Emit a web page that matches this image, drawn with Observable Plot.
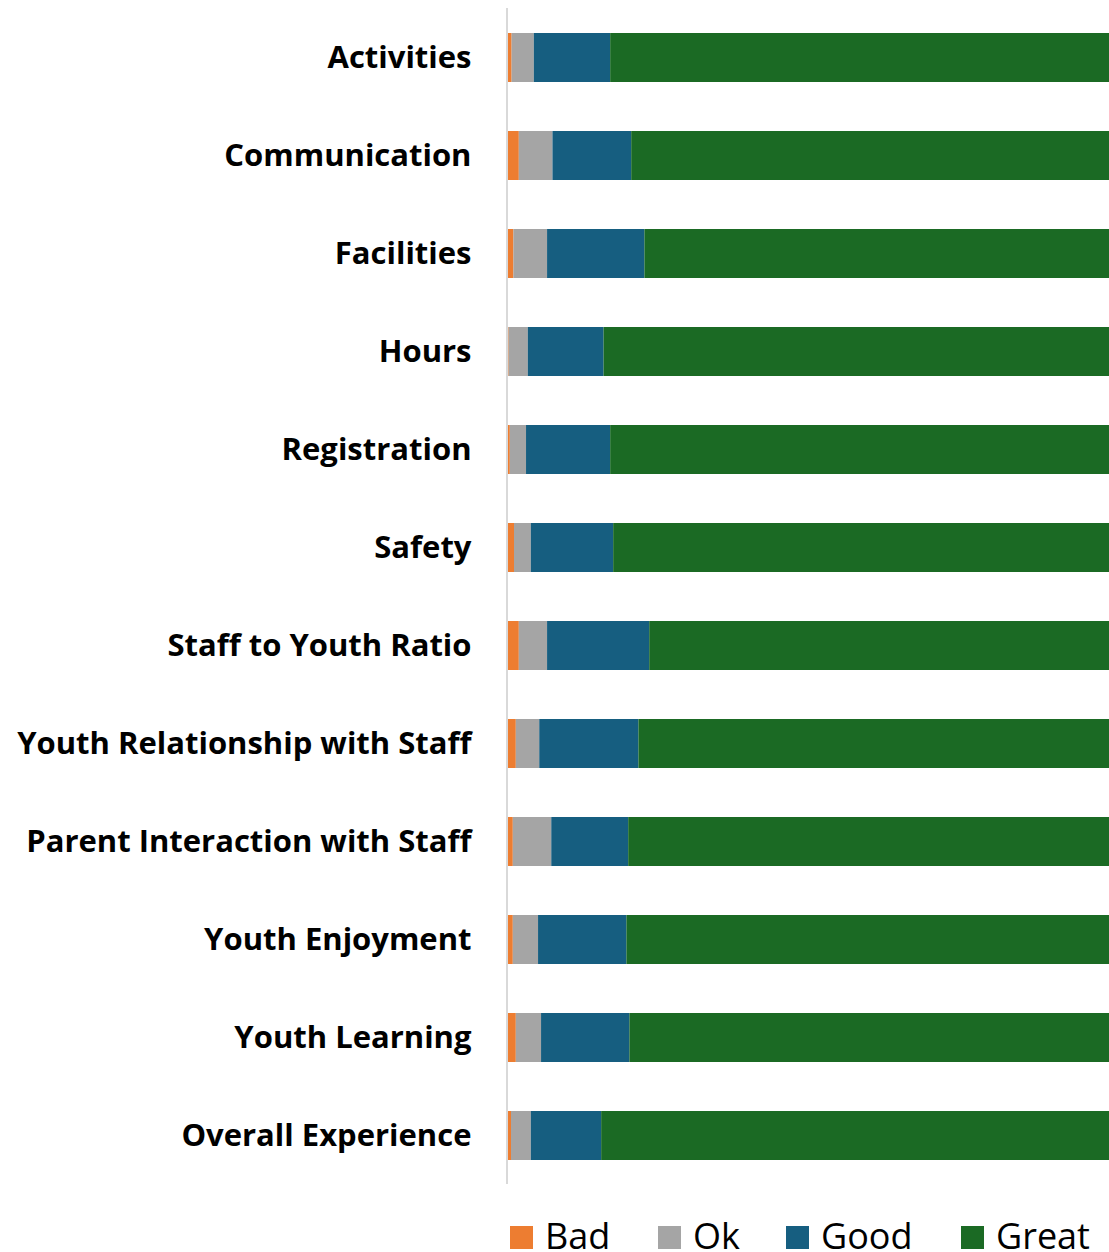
<!DOCTYPE html>
<html>
<head>
<meta charset="utf-8">
<script src="https://cdn.jsdelivr.net/npm/d3@7"></script>
<script src="https://cdn.jsdelivr.net/npm/@observablehq/plot@0.6"></script>
<style>
  html, body { margin: 0; padding: 0; background: #fff; }
  #chart svg { display: block; }
  #legend { display: block; }
</style>
</head>
<body>
<div id="chart"></div>
<svg id="legend" width="1109" height="52"></svg>
<script>
const categories = [
  "Activities", "Communication", "Facilities", "Hours", "Registration", "Safety",
  "Staff to Youth Ratio", "Youth Relationship with Staff", "Parent Interaction with Staff",
  "Youth Enjoyment", "Youth Learning", "Overall Experience"
];
const series = ["Bad", "Ok", "Good", "Great"];
const bad   = [0.6, 1.8, 0.9, 0.1, 0.3, 1.0, 1.8, 1.3, 0.8, 0.8, 1.3, 0.5];
const ok    = [3.7, 5.6, 5.6, 3.2, 2.7, 2.8, 4.7, 3.9, 6.4, 4.2, 4.2, 3.3];
const good  = [12.7, 13.1, 16.2, 12.6, 14.0, 13.7, 17.0, 16.5, 12.8, 14.7, 14.7, 11.7];
const great = [83.0, 79.5, 77.3, 84.1, 83.0, 82.5, 76.5, 78.3, 80.0, 80.3, 79.8, 84.5];

const colors = ["#ED7D31", "#A5A5A5", "#165E80", "#1B6A24"];

const values = [bad, ok, good, great];
const rows = [];
categories.forEach((c, i) => {
  series.forEach((s, j) => rows.push({category: c, rating: s, value: values[j][i]}));
});

const chart = Plot.plot({
  width: 1109,
  height: 1200,
  marginLeft: 508,
  marginRight: 0,
  marginTop: 8,
  marginBottom: 16,
  style: {fontFamily: "'Open Sans', sans-serif", background: "#fff"},
  x: {domain: [0, 100], axis: null},
  y: {domain: categories, paddingInner: 0.5, paddingOuter: 0.25, label: null},
  color: {domain: series, range: colors},
  marks: [
    Plot.barX(rows, Plot.stackX({
      x: "value", y: "category", fill: "rating", order: series
    })),
    Plot.ruleX([0], {stroke: "#D9D9D9", strokeWidth: 2, dx: -1.5}),
    Plot.axisY({
      tickSize: 0, tickPadding: 37, fontSize: 31, fontWeight: "bold",
      fill: "#000", label: null
    })
  ]
});
document.getElementById("chart").appendChild(chart);

const legendX = [510, 658, 786, 961];
const lg = d3.select("#legend");
series.forEach((s, i) => {
  lg.append("rect").attr("x", legendX[i]).attr("y", 26).attr("width", 23).attr("height", 23)
    .attr("fill", colors[i]);
  lg.append("text").attr("x", legendX[i] + 35).attr("y", 49)
    .attr("font-family", "'Open Sans', sans-serif").attr("font-size", 36)
    .attr("fill", "#000").text(s);
});
</script>
</body>
</html>
